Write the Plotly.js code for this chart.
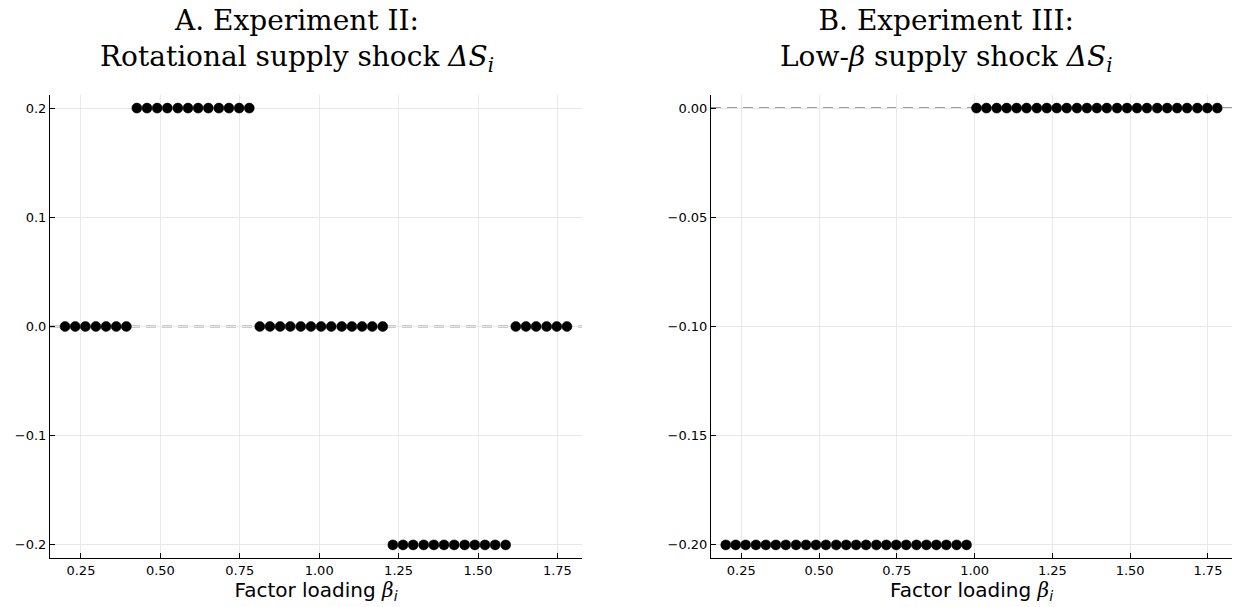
<!DOCTYPE html>
<html>
<head>
<meta charset="utf-8">
<script src="https://cdn.plot.ly/plotly-3.0.1.min.js"></script>
<style>html,body{margin:0;padding:0;background:#fff;}#chart{width:1233px;height:607px;}</style>
</head>
<body>
<div id="chart"></div>
<script>
// Factor loadings beta_i (50 evenly spaced assets)
const beta = [0.200, 0.232, 0.264, 0.297, 0.329, 0.361, 0.393, 0.426, 0.458, 0.490,
              0.522, 0.555, 0.587, 0.619, 0.651, 0.684, 0.716, 0.748, 0.780, 0.813,
              0.845, 0.877, 0.909, 0.942, 0.974, 1.006, 1.038, 1.071, 1.103, 1.135,
              1.167, 1.200, 1.232, 1.264, 1.296, 1.329, 1.361, 1.393, 1.425, 1.458,
              1.490, 1.522, 1.554, 1.587, 1.619, 1.651, 1.683, 1.716, 1.748, 1.780];

// Panel A: rotational supply shock
const shockRotational = [0, 0, 0, 0, 0, 0, 0,
  0.2, 0.2, 0.2, 0.2, 0.2, 0.2, 0.2, 0.2, 0.2, 0.2, 0.2, 0.2,
  0, 0, 0, 0, 0, 0, 0, 0, 0, 0, 0, 0, 0,
  -0.2, -0.2, -0.2, -0.2, -0.2, -0.2, -0.2, -0.2, -0.2, -0.2, -0.2, -0.2,
  0, 0, 0, 0, 0, 0];

// Panel B: low-beta supply shock
const shockLowBeta = [-0.2, -0.2, -0.2, -0.2, -0.2, -0.2, -0.2, -0.2, -0.2, -0.2,
  -0.2, -0.2, -0.2, -0.2, -0.2, -0.2, -0.2, -0.2, -0.2, -0.2, -0.2, -0.2, -0.2, -0.2, -0.2,
  0, 0, 0, 0, 0, 0, 0, 0, 0, 0, 0, 0, 0, 0, 0, 0, 0, 0, 0, 0, 0, 0, 0, 0, 0];

const referenceLevel = 0;
const xTickVals = [0.25, 0.50, 0.75, 1.00, 1.25, 1.50, 1.75];
const yTickValsA = [-0.2, -0.1, 0.0, 0.1, 0.2];
const yTickValsB = [-0.20, -0.15, -0.10, -0.05, 0.00];
const titleA = 'A. Experiment II:<br>Rotational supply shock <i>ΔS</i><sub><i>i</i></sub>';
const titleB = 'B. Experiment III:<br>Low-<i>β</i> supply shock <i>ΔS</i><sub><i>i</i></sub>';
const xLabel = 'Factor loading <span style="font-family:\'DejaVu Serif\'"><i>β</i></span><sub><i>i</i></sub>';

const W = 1233, H = 607;
const px = v => v / W, py = v => 1 - v / H;

const marker = {color: '#000', size: 10, line: {color: '#000', width: 0.5}};
const traces = [
  {x: beta, y: shockRotational, type: 'scatter', mode: 'markers', marker: marker, xaxis: 'x', yaxis: 'y', cliponaxis: false, hoverinfo: 'x+y'},
  {x: beta, y: shockLowBeta, type: 'scatter', mode: 'markers', marker: marker, xaxis: 'x2', yaxis: 'y2', cliponaxis: false, hoverinfo: 'x+y'}
];

const tickFont = {family: 'DejaVu Sans', size: 13, color: '#000'};
function xax(domain) {
  return {
    domain: domain, range: [0.1526, 1.8274], tickvals: xTickVals, tickformat: '.2f',
    showgrid: true, gridcolor: '#e8e8e8', gridwidth: 1, zeroline: false,
    showline: true, linecolor: '#000', linewidth: 1, ticks: 'inside', ticklen: 5, tickcolor: '#000', tickwidth: 1,
    tickfont: tickFont, fixedrange: true,
    title: {text: xLabel, font: {family: 'DejaVu Sans', size: 20, color: '#000'}, standoff: 0}
  };
}
function yax(range, vals, fmt, anchor) {
  return {
    domain: [py(558), py(95)], range: range, tickvals: vals, tickformat: fmt, anchor: anchor,
    showgrid: true, gridcolor: '#e8e8e8', gridwidth: 1, zeroline: false,
    showline: true, linecolor: '#000', linewidth: 1, ticks: 'inside', ticklen: 5, tickcolor: '#000', tickwidth: 1,
    tickfont: tickFont, fixedrange: true
  };
}

const titleFont = {family: 'DejaVu Serif', size: 28, color: '#000'};
const dashStyle = {color: '#9a9a9a', width: 2, dash: '10px,6px'};
const layout = {
  width: W, height: H, margin: {l: 0, r: 0, t: 0, b: 0},
  paper_bgcolor: '#fff', plot_bgcolor: '#fff', showlegend: false,
  xaxis: Object.assign(xax([px(50), px(582)]), {anchor: 'y'}),
  yaxis: yax([-0.212, 0.212], yTickValsA, '.1f', 'x'),
  xaxis2: Object.assign(xax([px(711), px(1232)]), {anchor: 'y2'}),
  yaxis2: yax([-0.206, 0.006], yTickValsB, '.2f', 'x2'),
  shapes: [
    {type: 'line', xref: 'x domain', yref: 'y', x0: 0, x1: 1, y0: referenceLevel, y1: referenceLevel,
     line: dashStyle, layer: 'below'},
    {type: 'line', xref: 'x2 domain', yref: 'y2', x0: 0, x1: 1, y0: referenceLevel, y1: referenceLevel,
     line: dashStyle, layer: 'below'}
  ],
  annotations: [
    {text: titleA, xref: 'paper', yref: 'paper', x: px(297), y: py(2), xanchor: 'center', yanchor: 'top',
     showarrow: false, font: titleFont, align: 'center'},
    {text: titleB, xref: 'paper', yref: 'paper', x: px(946), y: py(2), xanchor: 'center', yanchor: 'top',
     showarrow: false, font: titleFont, align: 'center'}
  ]
};

Plotly.newPlot('chart', traces, layout, {displayModeBar: false, staticPlot: true});
</script>
</body>
</html>
